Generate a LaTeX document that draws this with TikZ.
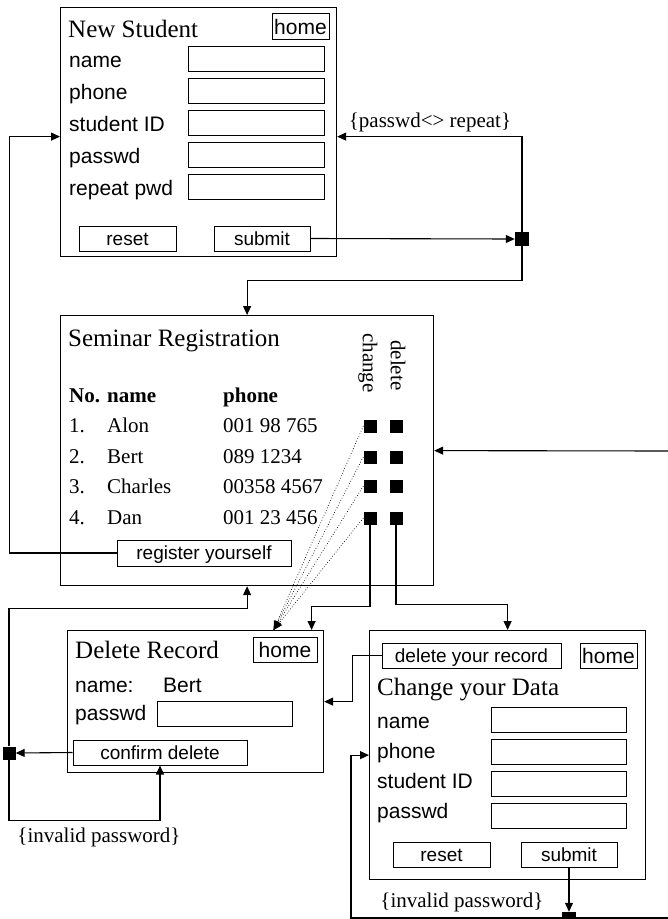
\documentclass[tikz,border=0pt]{standalone}
\usepackage{fontspec}
\setmainfont{Liberation Serif}
\setsansfont{Liberation Sans}
\usetikzlibrary{arrows.meta,positioning,calc}

\begin{document}
\begin{tikzpicture}[x=1pt,y=-1pt,
frame/.style={draw,line width=1.2pt,inner sep=0pt,anchor=north west},
ttl/.style={anchor=west,inner sep=0pt,text height=18.75pt,text depth=6.25pt,font=\fontsize{25}{28}\selectfont},
lbl/.style={anchor=west,inner sep=0pt,text height=15.75pt,text depth=5.25pt,font=\fontsize{21}{24}\selectfont\sffamily},
txt/.style={anchor=west,inner sep=0pt,text height=15.75pt,text depth=5.25pt,font=\fontsize{21}{24}\selectfont},
field/.style={draw,line width=1pt,anchor=west,minimum width=136pt,minimum height=25pt,inner sep=0pt},
btn/.style={draw,line width=1pt,minimum height=25pt,inner sep=0pt,text height=13.5pt,text depth=0pt,font=\fontsize{19}{22}\selectfont\sffamily},
homebtn/.style={draw,line width=1pt,minimum height=26pt,inner sep=1pt,text height=15pt,text depth=0pt,font=\fontsize{21}{24}\selectfont\sffamily},
sq/.style={fill=black,minimum size=13pt,inner sep=0pt},
note/.style={inner sep=0pt,font=\fontsize{21}{24}\selectfont},
arr/.style={-{Triangle[length=9pt,width=8pt]},line width=1.1pt},
dotarr/.style={-{Triangle[length=9pt,width=7pt]},dotted,line width=0.7pt}
]
\useasboundingbox (0,0) rectangle (668,919);
\clip (0,0) rectangle (668,919);

% New Student
\node[frame,minimum width=276pt,minimum height=249pt] (newstud) at (60,7) {};
\node[ttl] (nsttl) at (68,31) {New Student};
\node[homebtn,minimum width=57pt] (home1) at (300.5,26.5) {home};
\foreach \l/\y [count=\i] in {name/59,phone/91,student ID/123,passwd/155,repeat pwd/187} {
  \node[lbl] (nsl\i) at (69,\y+3) {\l};
  \node[field] (nsf\i) at (188,\y) {};
}
\node[btn,minimum width=97pt] (reset1) at (127.5,238.5) {reset};
\node[btn,minimum width=96pt] (submit1) at (262,238.5) {submit};
\node[sq,minimum size=14pt] (j1) at (522,239) {};
\node[note] (pwnote) at (430,122) {\{passwd<> repeat\}};

% Seminar Registration
\node[frame,minimum width=373pt,minimum height=270pt] (sem) at (60,315) {};
\node[ttl] (semttl) at (68,340) {Seminar Registration};
\node[txt,font=\fontsize{21}{24}\selectfont\bfseries] (hno) at (69,397) {No.};
\node[txt,font=\fontsize{21}{24}\selectfont\bfseries] (hname) at (107,397) {name};
\node[txt,font=\fontsize{21}{24}\selectfont\bfseries] (hphone) at (223,397) {phone};
\node[txt,rotate=-90] (chglbl) at (368,333) {change};
\node[txt,rotate=-90] (dellbl) at (396,340) {delete};
\foreach \n/\p/\y/\b [count=\i] in {Alon/001 98 765/426/427,Bert/089 1234/457/458,Charles/00358 4567/486/488,Dan/001 23 456/518/519} {
  \node[txt] (no\i) at (69,\b) {\i.};
  \node[txt] (nm\i) at (107,\b) {\n};
  \node[txt] (ph\i) at (223,\b) {\p};
  \node[sq] (c\i) at (370,\y) {};
  \node[sq] (d\i) at (396,\y) {};
}
\node[btn,minimum width=174pt,minimum height=26pt] (reg) at (204,553) {register yourself};
\coordinate (rin) at (668,451);

% Delete Record
\node[frame,minimum width=256pt,minimum height=142pt] (del) at (67,630) {};
\node[ttl] (delttl) at (75,652) {Delete Record};
\node[homebtn,minimum width=64pt,minimum height=25pt] (home2) at (285,649.5) {home};
\node[lbl] (dname) at (75,687) {name:};
\node[lbl] (dbert) at (163,687) {Bert};
\node[lbl] (dpw) at (75,715) {passwd};
\node[field,minimum width=135pt] (dpwf) at (157,714) {};
\node[btn,minimum width=174pt] (conf) at (160,752.5) {confirm delete};
\node[sq] (j2) at (9,753) {};
\node[note] (inv1) at (99,837) {\{invalid password\}};

% Change your Data
\node[frame,minimum width=276pt,minimum height=249pt] (chg) at (369,630) {};
\node[btn,minimum width=179pt] (delrec) at (471.5,655.5) {delete your record};
\node[homebtn,minimum width=57pt,minimum height=25pt] (home3) at (608.5,655.5) {home};
\node[ttl] (chgttl) at (377,689) {Change your Data};
\foreach \l/\y/\b [count=\i] in {name/720/723,phone/752/753,student ID/784/783,passwd/816/813} {
  \node[lbl] (cdl\i) at (377,\b) {\l};
  \node[field,minimum width=135pt] (cdf\i) at (491,\y) {};
}
\node[btn,minimum width=97pt] (reset3) at (441.5,854.5) {reset};
\node[btn,minimum width=96pt] (submit3) at (569,854.5) {submit};
\node[sq,minimum size=14pt] (j3) at (569,919) {};
\node[note] (inv2) at (462,902) {\{invalid password\}};
\coordinate (rout) at (668,918);

% connectors
\draw[arr] (submit1.east) -- (j1.west);
\draw[arr] (j1.north) |- ([yshift=-4.5pt]newstud.east);
\draw[arr] (j1.south) -- ++(0,34) -| (sem.north);
\draw[arr] (reg.west) -- ++(-107,0) |- ([yshift=-4.5pt]newstud.west);
\draw[arr] (rin) -- (sem.east);
\foreach \i in {1,...,4} \draw[dotarr] (c\i.west) -- ([xshift=78pt]del.north);
\draw[arr] (c4.south) -- ++(0,81.5) -| ([xshift=116pt]del.north);
\draw[arr] (d4.south) -- ++(0,79.5) -| (chg.north);
\draw[arr] (conf.west) -- (j2.east);
\draw[arr] (j2.south) -- ++(0,60.5) -| (conf.south);
\draw[arr] (j2.north) -- ++(0,-137.5) -| (sem.south);
\draw[arr] (delrec.west) -- ++(-29,0) |- (del.east);
\draw[arr] (submit3.south) -- (j3.north);
\draw[arr] (rout) -- ++(-317,0) |- (chg.west);
\end{tikzpicture}
\end{document}
